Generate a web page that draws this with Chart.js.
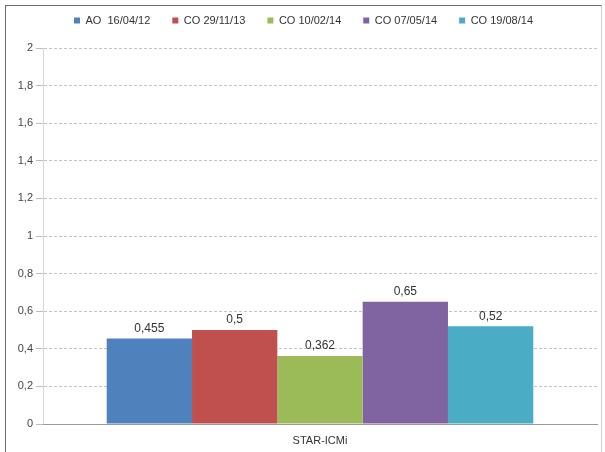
<!DOCTYPE html>
<html>
<head>
<meta charset="utf-8">
<script src="https://cdn.jsdelivr.net/npm/chart.js@4.4.0/dist/chart.umd.min.js"></script>
<style>
  html, body { margin: 0; padding: 0; background: #fff; }
  #wrap { position: relative; width: 605px; height: 452px; overflow: hidden; }
  #frame {
    position: absolute; left: 5px; top: 5px; width: 597px; height: 460px;
    border-top: 1px solid #6b6b6b; border-left: 1px solid #6b6b6b; border-right: 1px solid #d0d0d0;
    box-sizing: border-box;
  }
  #chartStar { position: absolute; left: 0; top: 0; }
</style>
</head>
<body>
<div id="wrap">
  <div id="frame"></div>
  <canvas id="chartStar" width="605" height="452"></canvas>
</div>
<script>
// data
const categories = ['STAR-ICMi'];
const seriesLabels = ['AO  16/04/12', 'CO 29/11/13', 'CO 10/02/14', 'CO 07/05/14', 'CO 19/08/14'];
const seriesValues = [0.455, 0.5, 0.362, 0.65, 0.52];
const seriesColors = ['#4f81bd', '#c0504d', '#9bbb59', '#8064a2', '#4bacc6'];
const yTicks = [0, 0.2, 0.4, 0.6, 0.8, 1, 1.2, 1.4, 1.6, 1.8, 2];

const commaNum = v => String(v).replace('.', ',');

// value labels on top of each bar
const barLabels = {
  id: 'barLabels',
  afterDatasetsDraw(chart) {
    const ctx = chart.ctx;
    ctx.save();
    ctx.font = '12px "Liberation Sans", Arial, sans-serif';
    ctx.fillStyle = '#333';
    ctx.textAlign = 'center';
    ctx.textBaseline = 'bottom';
    chart.data.datasets.forEach((ds, i) => {
      const meta = chart.getDatasetMeta(i);
      meta.data.forEach((bar, j) => {
        ctx.fillText(commaNum(ds.data[j]), bar.x, bar.y - 4);
      });
    });
    ctx.restore();
  }
};

// nudge the legend up and right, like the original
const legendNudge = {
  id: 'legendNudge',
  afterLayout(chart) {
    const lg = chart.legend;
    if (!lg) return;
    lg.top -= 12; lg.bottom -= 12;
    lg.left += 5; lg.right += 5;
  }
};

const ctx = document.getElementById('chartStar').getContext('2d');

new Chart(ctx, {
  type: 'bar',
  data: {
    labels: categories,
    datasets: seriesLabels.map((label, i) => ({
      label: label,
      data: [seriesValues[i]],
      backgroundColor: seriesColors[i],
      borderWidth: 0,
      categoryPercentage: 0.77,
      barPercentage: 1
    }))
  },
  options: {
    responsive: false,
    animation: false,
    devicePixelRatio: 1,
    layout: { padding: { left: 0, right: 8, top: 5, bottom: 0 } },
    plugins: {
      legend: {
        labels: {
          color: '#333',
          font: { size: 11, family: '"Liberation Sans", Arial, sans-serif' },
          boxWidth: 6,
          boxHeight: 6,
          padding: 22
        }
      },
      tooltip: { enabled: false }
    },
    scales: {
      y: {
        min: 0,
        max: 2,
        afterBuildTicks: axis => { axis.ticks = yTicks.map(v => ({ value: v })); },
        afterFit: axis => { axis.width = 43; },
        ticks: {
          color: '#444',
          font: { size: 11, family: '"Liberation Sans", Arial, sans-serif' },
          padding: 3,
          callback: v => commaNum(v)
        },
        grid: { color: '#c4c4c4', tickLength: 7, tickColor: '#bdbdbd' },
        border: { display: true, color: '#d6d6d6', dash: [3, 2] }
      },
      x: {
        afterFit: axis => { axis.height = 28; },
        ticks: {
          color: '#333',
          font: { size: 11, family: '"Liberation Sans", Arial, sans-serif' },
          padding: 2
        },
        grid: { display: false },
        border: { display: true, color: '#9a9a9a', width: 1 }
      }
    }
  },
  plugins: [barLabels, legendNudge]
});
</script>
</body>
</html>
